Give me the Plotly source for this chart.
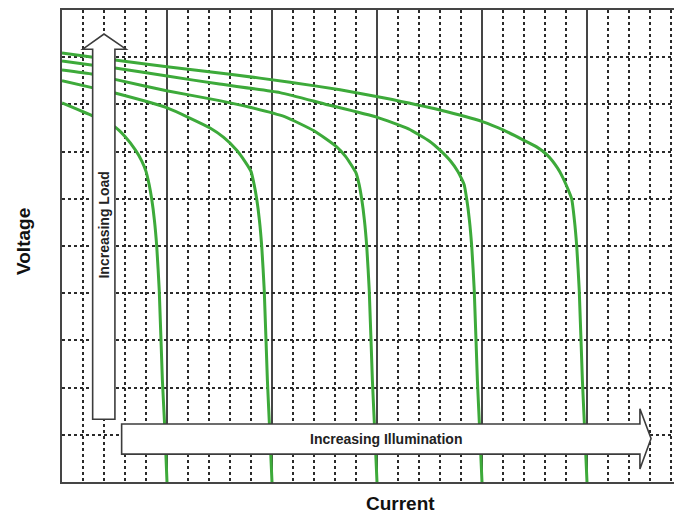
import plotly.graph_objects as go

# Current (x, grid units) and Voltage (y, grid units)
c1_i = [0, 1.48, 2.52, 3.0, 3.5, 3.8, 4.0, 4.15, 4.27, 4.4, 4.51, 4.63, 4.78, 4.9, 5.0]
c1_v = [8.03, 7.75, 7.52, 7.32, 7.03, 6.80, 6.58, 6.30, 6.0, 5.55, 5.0, 4.07, 2.16, 1.1, 0]

c2_i = [0, 1.48, 2.52, 4.98, 7.05, 7.7, 8.32, 8.7, 9.0, 9.15, 9.27, 9.4, 9.51, 9.63, 9.78, 9.9, 10]
c2_v = [8.50, 8.35, 8.24, 7.93, 7.50, 7.30, 7.03, 6.80, 6.58, 6.30, 6.0, 5.55, 5.0, 4.07, 2.16, 1.0, 0]

c3_i = [0, 1.48, 2.52, 4.98, 7.5, 8.95, 10.6, 12.0, 13.08, 13.5, 13.8, 14.0, 14.15, 14.27, 14.4, 14.51, 14.63, 14.78, 14.9, 15]
c3_v = [8.73, 8.64, 8.53, 8.29, 8.08, 7.94, 7.74, 7.44, 7.10, 6.90, 6.70, 6.55, 6.30, 6.0, 5.55, 5.0, 4.07, 2.16, 1.0, 0]

c4_i = [0, 1.48, 2.52, 5.0, 7.5, 10.38, 12.5, 14.98, 16.5, 17.5, 18.0, 18.5, 18.85, 19.0, 19.15, 19.27, 19.4, 19.51, 19.63, 19.78, 19.9, 20]
c4_v = [8.92, 8.83, 8.77, 8.60, 8.43, 8.25, 8.01, 7.73, 7.48, 7.22, 7.03, 6.80, 6.58, 6.45, 6.30, 6.0, 5.55, 5.0, 4.07, 2.16, 1.0, 0]

c5_i = [0, 1.48, 2.52, 5.0, 8.0, 10.86, 13.24, 15.29, 18.0, 20.05, 21.0, 21.95, 22.6, 23.1, 23.6, 23.85, 24.05, 24.27, 24.4, 24.51, 24.63, 24.78, 24.9, 25]
c5_v = [9.09, 9.00, 8.94, 8.80, 8.64, 8.47, 8.31, 8.14, 7.88, 7.63, 7.46, 7.25, 7.10, 6.93, 6.65, 6.45, 6.25, 6.0, 5.55, 5.0, 4.07, 2.16, 1.0, 0]

curves = [(c1_i, c1_v), (c2_i, c2_v), (c3_i, c3_v), (c4_i, c4_v), (c5_i, c5_v)]

y_range = [0, 10]

green = "#3daa3a"
grid_col = "#2a2a2a"
line_col = "#454545"

# page body adds an 8px offset; compensate so the plot sits where the reference has it
OFF = 8
W, H = 682 - OFF, 514 - OFF
ml, mr, mt, mb = 62 - OFF, 0, 10 - OFF, 514 - 482
pw, ph = W - ml - mr, H - mt - mb
x_range = [0, pw / 21.0]   # 21 px per minor grid unit

fig = go.Figure()
for ci, cv in curves:
    fig.add_trace(go.Scatter(x=ci, y=cv, mode="lines",
                             line=dict(color=green, width=3, shape="spline", smoothing=0.5),
                             hoverinfo="skip", showlegend=False))

# Arrows (data-coordinate outlines)
v_arrow = "M 1.46 1.33 L 1.46 9.17 L 0.99 9.17 L 2.0 9.49 L 3.05 9.17 L 2.52 9.17 L 2.52 1.33 Z"
h_arrow = "M 2.84 1.23 L 27.52 1.23 L 27.52 1.55 L 28.05 0.92 L 27.52 0.275 L 27.52 0.59 L 2.84 0.59 Z"
for p in (v_arrow, h_arrow):
    fig.add_shape(type="path", path=p, xref="x", yref="y", layer="above",
                  fillcolor="white", line=dict(color="#3c3c3c", width=1.6))

font_lab = "Liberation Sans, Arial, sans-serif"
fig.add_annotation(x=15.45, y=0.92, xref="x", yref="y", text="<b>Increasing Illumination</b>",
                   showarrow=False, xanchor="center", yanchor="middle",
                   font=dict(family=font_lab, size=14, color="#222"))
fig.add_annotation(x=1.99, y=5.45, xref="x", yref="y", text="<b>Increasing Load</b>", textangle=-90,
                   showarrow=False, xanchor="center", yanchor="middle",
                   font=dict(family=font_lab, size=14, color="#222"))

# axis titles placed at reference pixel positions (window coords)
def px_to_paper(px, py):
    fx = (px - OFF - ml) / pw
    fy = (H - mb - (py - OFF)) / ph
    return fx, fy

cx, cy = px_to_paper(400, 503)
fig.add_annotation(x=cx, y=cy, xref="paper", yref="paper", text="<b>Current</b>",
                   showarrow=False, xanchor="center", yanchor="middle", height=20, valign="middle",
                   font=dict(family=font_lab, size=19, color="#111"))
vx, vy = px_to_paper(23, 242)
fig.add_annotation(x=vx, y=vy, xref="paper", yref="paper", text="<b>Voltage</b>", textangle=-90,
                   showarrow=False, xanchor="center", yanchor="middle",
                   font=dict(family=font_lab, size=19, color="#111"))

fig.update_layout(
    width=W, height=H,
    margin=dict(l=ml, r=mr, t=mt, b=mb, pad=0),
    paper_bgcolor="white", plot_bgcolor="white",
    xaxis=dict(range=x_range, showticklabels=False, ticks="", zeroline=False,
               tick0=0, dtick=5, showgrid=True, gridcolor=line_col, gridwidth=1.5,
               showline=True, linecolor=line_col, linewidth=1.6, mirror=True,
               minor=dict(tick0=0, dtick=1, showgrid=True, gridcolor=grid_col,
                          gridwidth=1.5, griddash="dot")),
    yaxis=dict(range=y_range, showticklabels=False, ticks="", zeroline=False,
               tick0=0, dtick=1, showgrid=True, gridcolor=grid_col, gridwidth=1.5,
               griddash="dot", showline=True, linecolor=line_col, linewidth=1.6),
)

fig.write_html("out.html")
